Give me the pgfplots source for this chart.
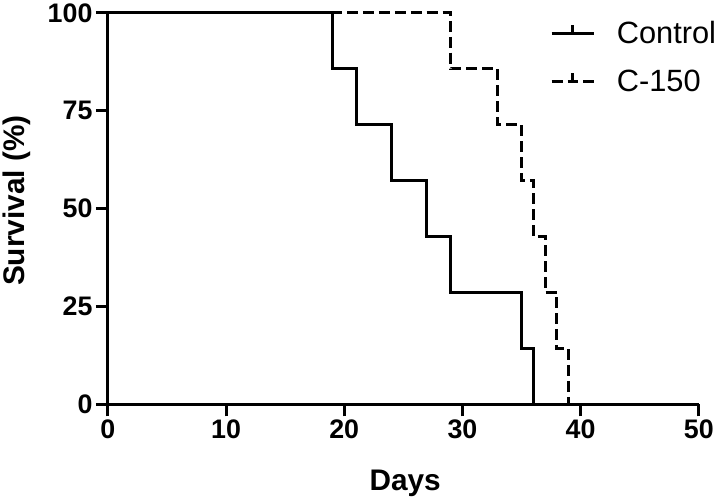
\documentclass[border=0pt]{standalone}
\usepackage{fontspec}
\setmainfont{Liberation Sans}
\usepackage{pgfplots}
\pgfplotsset{compat=1.18}

\begin{document}
\begin{tikzpicture}
\begin{axis}[
	scale only axis,
	width=593bp, height=393bp,
	xmin=0, xmax=50, ymin=0, ymax=100,
	xtick={0,10,...,50}, ytick={0,25,...,100},
	axis x line=bottom, axis y line=left,
	axis line style={-, line width=3bp},
	tick style={line width=3bp, black},
	tick align=outside, major tick length=12bp,
	/pgf/number format/assume math mode=true,
	tick label style={font=\bfseries\fontsize{27}{27}\selectfont},
	xlabel={Days}, ylabel={Survival (\%)},
	label style={font=\bfseries\fontsize{30}{30}\selectfont},
	xlabel style={at={(axis description cs:0.503,-0.219)}, anchor=base},
	ylabel style={at={(axis description cs:-0.1535,0.52)}, anchor=center},
	clip=false,
	legend style={draw=none, fill=none, font=\fontsize{31}{31}\selectfont,
		at={(axis description cs:0.743,0.989)}, anchor=north west,
		row sep=21bp},
	legend cell align=left,
	legend style={/tikz/every odd column/.append style={column sep=19bp}},
	legend image code/.code={
		\draw[#1] (0bp,0bp) -- (43bp,0bp);
		\draw[#1, solid] (21bp,0bp) -- (21bp,8bp);
	},
]
	\addplot[const plot, black, line width=3bp]
		coordinates {
			(0,100)(19,85.71)(21,71.43)(24,57.14)(27,42.86)(29,28.57)(35,14.29)(36,0)
		};
	\addlegendentry{Control}
	\addplot[const plot, black, line width=3bp, dash pattern=on 11bp off 5bp]
		coordinates {
			(0,100)(29,85.71)(33,71.43)(35,57.14)(36,42.86)(37,28.57)(38,14.29)(39,0)
		};
	\addlegendentry{C-150}
\end{axis}
\end{tikzpicture}
\end{document}
